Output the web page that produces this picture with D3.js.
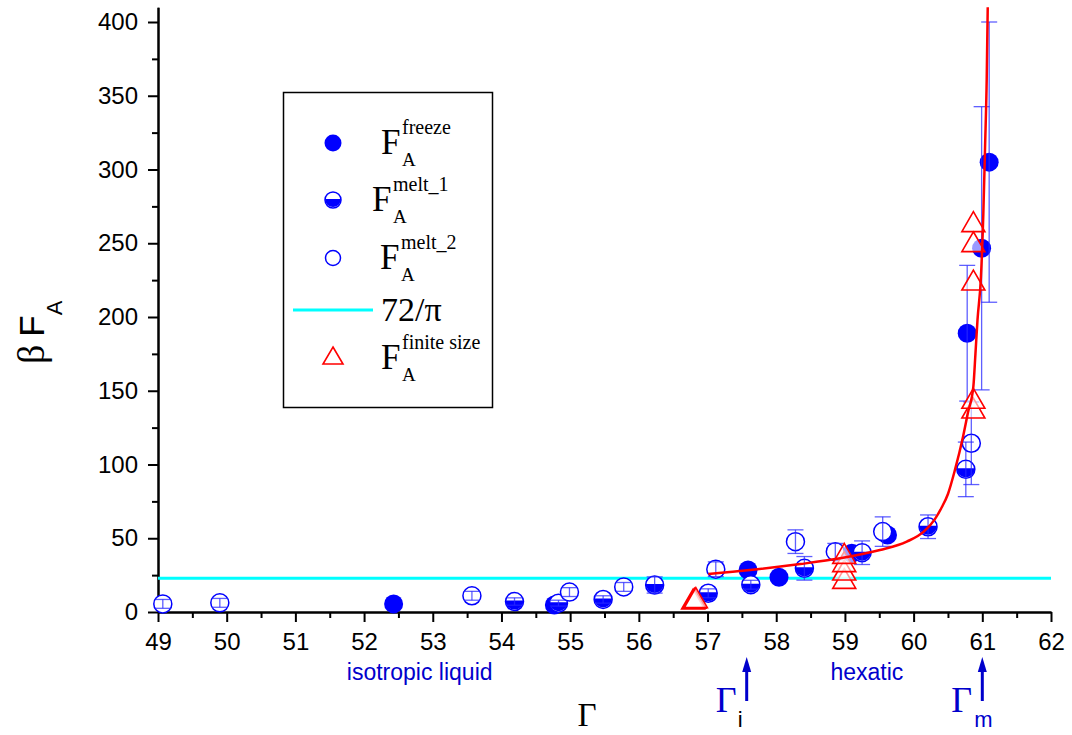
<!DOCTYPE html>
<html>
<head>
<meta charset="utf-8">
<script src="https://cdn.jsdelivr.net/npm/d3@7"></script>
<style>
  body { margin: 0; background: #fff; }
  .serif { font-family: "Liberation Serif", "Times New Roman", serif; }
  .sans { font-family: "Liberation Sans", Arial, sans-serif; }
</style>
</head>
<body>
<div id="chart"></div>
<script>
// tick labels
const xTicks = [49, 50, 51, 52, 53, 54, 55, 56, 57, 58, 59, 60, 61, 62];
const yTicks = [0, 50, 100, 150, 200, 250, 300, 350, 400];

// F_A^freeze (filled circles)
const freezeGamma = [52.43, 54.77, 57.59, 58.04, 59.10, 59.62, 60.78, 60.99, 61.10];
const freezeValue = [5.5, 4.8, 28.5, 23.5, 39.8, 52.2, 189, 246.6, 305];
const freezeError = [0, 0, 0, 0, 0, 0, 46, 96, 95];

// F_A^melt_1 (half filled circles)
const melt1Gamma = [54.19, 54.83, 55.48, 56.23, 57.01, 57.63, 58.41, 59.25, 60.21, 60.76];
const melt1Value = [7.1, 6.0, 8.5, 18.3, 12.7, 18.5, 29.6, 40.2, 57.8, 96.7];
const melt1Error = [2.5, 2, 2.5, 5.5, 3, 3, 8, 8, 8, 18.5];

// F_A^melt_2 (open circles)
const melt2Gamma = [49.07, 49.90, 53.57, 54.99, 55.78, 57.12, 58.28, 58.86, 59.55, 60.84];
const melt2Value = [5.5, 6.2, 11.0, 13.5, 17.0, 29.0, 47.7, 40.9, 54.5, 114.4];
const melt2Error = [3, 3, 3, 3, 3, 5, 8, 5.6, 10, 28];

// F_A^finite size (triangles)
const finiteGamma = [56.79, 56.81, 56.83, 58.99, 58.99, 58.99, 58.99, 60.87, 60.87, 60.87, 60.87, 60.87];
const finiteValue = [6.5, 7.0, 7.5, 20.5, 26.2, 31.9, 37.5, 136, 142.6, 222.8, 248.8, 262.4];

// fit curve
const fitGamma = [57.01, 57.62, 58.35, 58.93, 59.51, 59.90, 60.16, 60.31, 60.41, 60.50, 60.60, 60.72,
  60.79, 60.87, 60.90, 60.93, 60.98, 61.015, 61.04, 61.064, 61.079];
const fitValue = [25.8, 28.5, 32.5, 36.4, 42.0, 47.7, 55, 63, 71, 80, 96, 119,
  135, 153, 175, 198, 227, 270, 315, 361, 410];

const ktValue = 72 / Math.PI;
const arrowGamma = [57.57, 61.0];

var svg = d3.select("#chart").append("svg")
  .attr("width", 1072)
  .attr("height", 735);

var x = d3.scaleLinear().domain([49, 62]).range([158, 1051]);
var y = d3.scaleLinear().domain([0, 410]).range([612, 7.25]);

const blue = "#0000ff";
const r = 9;

// axes
var xMinor = svg.append("g")
  .attr("transform", "translate(0,612)")
  .call(d3.axisBottom(x).tickValues(d3.range(49.5, 62, 1)).tickSize(6).tickSizeOuter(0).tickFormat(""));
var yMinor = svg.append("g")
  .attr("transform", "translate(158,0)")
  .call(d3.axisLeft(y).tickValues(d3.range(25, 410, 50)).tickSize(6).tickSizeOuter(0).tickFormat(""));

var xAxis = svg.append("g")
  .attr("transform", "translate(0,612)")
  .call(d3.axisBottom(x).tickValues(xTicks).tickSize(10).tickPadding(11).tickSizeOuter(0).tickFormat(d3.format("d")));
var yAxis = svg.append("g")
  .attr("transform", "translate(158,0)")
  .call(d3.axisLeft(y).tickValues(yTicks).tickSize(10).tickPadding(10).tickSizeOuter(0));

[xMinor, yMinor, xAxis, yAxis].forEach(function (g) {
  g.selectAll("line").attr("stroke", "#000").attr("stroke-width", 2);
  g.select(".domain").attr("stroke", "#000").attr("stroke-width", 2);
});
[xAxis, yAxis].forEach(function (g) {
  g.selectAll("text").attr("class", "sans").attr("font-size", 24).attr("fill", "#000");
});

// 72/pi line
svg.append("line")
  .attr("x1", x(49)).attr("x2", x(62))
  .attr("y1", y(ktValue)).attr("y2", y(ktValue))
  .attr("stroke", "#00ffff").attr("stroke-width", 3);

const zip = (g, v, e) => g.map((d, i) => ({ g: d, v: v[i], e: e ? e[i] : 0 }));
const freeze = zip(freezeGamma, freezeValue, freezeError);
const melt1 = zip(melt1Gamma, melt1Value, melt1Error);
const melt2 = zip(melt2Gamma, melt2Value, melt2Error);
const finite = zip(finiteGamma, finiteValue);

// markers
svg.selectAll(".freeze").data(freeze).enter().append("circle")
  .attr("cx", d => x(d.g)).attr("cy", d => y(d.v)).attr("r", r + 0.5)
  .attr("fill", blue);

var m1 = svg.selectAll(".melt1").data(melt1).enter().append("g")
  .attr("transform", d => "translate(" + x(d.g) + "," + y(d.v) + ")");
m1.append("circle").attr("r", r).attr("fill", "#fff").attr("stroke", blue).attr("stroke-width", 1.5);
m1.append("path").attr("d", "M" + (-r) + ",-1 A" + r + "," + r + " 0 0 0 " + r + ",-1 Z").attr("fill", blue);

svg.selectAll(".melt2").data(melt2).enter().append("circle")
  .attr("cx", d => x(d.g)).attr("cy", d => y(d.v)).attr("r", r)
  .attr("fill", "#fff").attr("stroke", blue).attr("stroke-width", 1.5);

// error bars
var bars = svg.selectAll(".err").data(freeze.concat(melt1, melt2).filter(d => d.e > 0))
  .enter().append("g").attr("stroke", "#2a2aff").attr("stroke-opacity", 0.75).attr("stroke-width", 1.3);
bars.append("line")
  .attr("x1", d => x(d.g)).attr("x2", d => x(d.g))
  .attr("y1", d => y(d.v - d.e)).attr("y2", d => y(d.v + d.e));
bars.append("line")
  .attr("x1", d => x(d.g) - 8).attr("x2", d => x(d.g) + 8)
  .attr("y1", d => y(d.v - d.e)).attr("y2", d => y(d.v - d.e));
bars.append("line")
  .attr("x1", d => x(d.g) - 8).attr("x2", d => x(d.g) + 8)
  .attr("y1", d => y(d.v + d.e)).attr("y2", d => y(d.v + d.e));

// triangles
const s = 23, h = s * Math.sqrt(3) / 2;
const triPath = "M0," + (-2 * h / 3) + " L" + (s / 2) + "," + (h / 3) + " L" + (-s / 2) + "," + (h / 3) + " Z";
svg.selectAll(".finite").data(finite).enter().append("path")
  .attr("d", triPath)
  .attr("transform", d => "translate(" + x(d.g) + "," + y(d.v) + ")")
  .attr("fill", "#fff").attr("fill-opacity", 0.6)
  .attr("stroke", "#ff0000").attr("stroke-width", 1.6);

// fit curve
var line = d3.line()
  .x(d => x(d[0])).y(d => y(d[1]))
  .curve(d3.curveMonotoneX);
svg.append("path")
  .datum(fitGamma.map((g, i) => [g, fitValue[i]]))
  .attr("d", line)
  .attr("fill", "none").attr("stroke", "#ff0000").attr("stroke-width", 2.5);

// legend
var lg = svg.append("g");
lg.append("rect").attr("x", 283.5).attr("y", 92.5).attr("width", 209).attr("height", 315)
  .attr("fill", "none").attr("stroke", "#000").attr("stroke-width", 1.5);

lg.append("circle").attr("cx", 333).attr("cy", 143).attr("r", 8.5).attr("fill", blue);
var lm1 = lg.append("g").attr("transform", "translate(333,200)");
lm1.append("circle").attr("r", 8).attr("fill", "#fff").attr("stroke", blue).attr("stroke-width", 1.5);
lm1.append("path").attr("d", "M-8,-1 A8,8 0 0 0 8,-1 Z").attr("fill", blue);
lg.append("circle").attr("cx", 333).attr("cy", 258).attr("r", 7.5)
  .attr("fill", "#fff").attr("stroke", blue).attr("stroke-width", 1.5);
lg.append("line").attr("x1", 293).attr("x2", 373).attr("y1", 310).attr("y2", 310)
  .attr("stroke", "#00ffff").attr("stroke-width", 3);
lg.append("path").attr("d", "M0,-11 L10,6 L-10,6 Z").attr("transform", "translate(333,358)")
  .attr("fill", "none").attr("stroke", "#ff0000").attr("stroke-width", 1.6);

const legendEntries = [
  { fx: 381, base: 154, sup: "freeze" },
  { fx: 372, base: 211, sup: "melt_1" },
  { fx: 380, base: 269, sup: "melt_2" },
  { fx: 381, base: 369, sup: "finite size" }
];
legendEntries.forEach(function (e) {
  lg.append("text").attr("class", "serif").attr("x", e.fx).attr("y", e.base)
    .attr("font-size", 35).text("F");
  lg.append("text").attr("class", "serif").attr("x", e.fx + 21).attr("y", e.base - 20)
    .attr("font-size", 20).text(e.sup);
  lg.append("text").attr("class", "serif").attr("x", e.fx + 21).attr("y", e.base + 12)
    .attr("font-size", 19).text("A");
});
lg.append("text").attr("class", "serif").attr("x", 381).attr("y", 321)
  .attr("font-size", 34).text("72/\u03c0");

// y label
var yl = svg.append("text").attr("transform", "translate(44,364) rotate(-90)");
yl.append("tspan").attr("class", "serif").attr("font-size", 38).text("\u03b2");
yl.append("tspan").attr("class", "sans").attr("font-size", 35).attr("dx", 8).text("F");
yl.append("tspan").attr("class", "sans").attr("font-size", 22).attr("dy", 18).text("A");

// x label
svg.append("text").attr("class", "serif").attr("x", 587).attr("y", 726)
  .attr("text-anchor", "middle").attr("font-size", 33).text("\u0393");

// phase labels
svg.append("text").attr("class", "sans").attr("x", x(52.81)).attr("y", 680)
  .attr("text-anchor", "middle").attr("font-size", 23).attr("fill", "#0000cc").text("isotropic liquid");
svg.append("text").attr("class", "sans").attr("x", x(59.32)).attr("y", 680)
  .attr("text-anchor", "middle").attr("font-size", 23).attr("fill", "#0000cc").text("hexatic");

// arrows for Gamma_i and Gamma_m
arrowGamma.forEach(function (g) {
  var ax = x(g);
  svg.append("line").attr("x1", ax).attr("x2", ax).attr("y1", 701).attr("y2", 668)
    .attr("stroke", "#0000cc").attr("stroke-width", 3);
  svg.append("path").attr("d", "M" + ax + ",657 L" + (ax + 4.5) + ",672 L" + (ax - 4.5) + ",672 Z")
    .attr("fill", "#0000cc");
});
svg.append("text").attr("class", "serif").attr("x", x(arrowGamma[0]) - 31).attr("y", 712)
  .attr("font-size", 36).attr("fill", "#0000cc").text("\u0393");
svg.append("text").attr("class", "sans").attr("x", x(arrowGamma[0]) - 9).attr("y", 727)
  .attr("font-size", 22).attr("fill", "#000").text("i");
svg.append("text").attr("class", "serif").attr("x", x(arrowGamma[1]) - 31).attr("y", 712)
  .attr("font-size", 36).attr("fill", "#0000cc").text("\u0393");
svg.append("text").attr("class", "sans").attr("x", x(arrowGamma[1]) - 8).attr("y", 727)
  .attr("font-size", 22).attr("fill", "#0000cc").text("m");
</script>
</body>
</html>
